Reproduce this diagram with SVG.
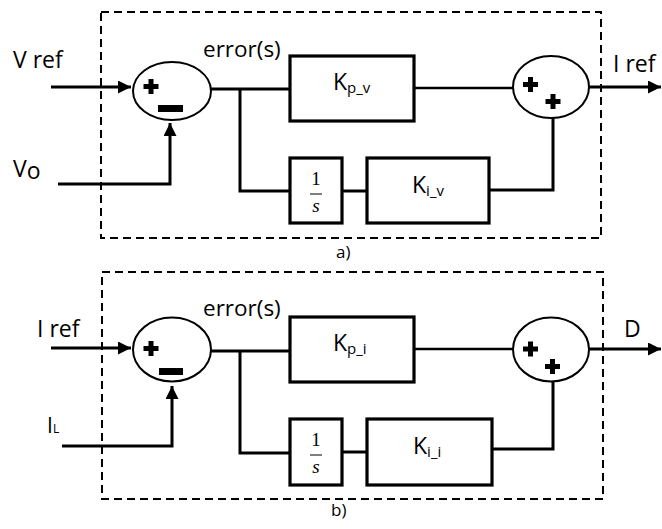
<svg xmlns="http://www.w3.org/2000/svg" xmlns:xlink="http://www.w3.org/1999/xlink" width="662" height="529" viewBox="0 0 662 529">
<style>
  .frame{fill:none;stroke:#000;stroke-width:2;stroke-dasharray:8 5}
  .blk{fill:#fff;stroke:#000;stroke-width:3.2}
  .sum{fill:#fff;stroke:#000;stroke-width:2}
  .wire{fill:none;stroke:#000;stroke-width:3}
  .thin{fill:none;stroke:#000;stroke-width:2.5}
  .lbl{font-family:"Open Sans","Liberation Sans",sans-serif;fill:#000}
  .big{font-size:23px}
  .sub{font-size:15px}
  .cap{font-size:17px}
  .math{font-family:"Liberation Serif","DejaVu Serif",serif;font-size:19px;fill:#000}
</style>
<defs>
  <marker id="arr" viewBox="0 0 12 12" refX="12" refY="6" markerWidth="13" markerHeight="13" markerUnits="userSpaceOnUse" orient="auto">
    <path d="M0,0 L12,6 L0,12 z" fill="#000"/>
  </marker>
  <path id="plus" d="M-7.5,-2.5 H-2.5 V-7.5 H2.5 V-2.5 H7.5 V2.5 H2.5 V7.5 H-2.5 V2.5 H-7.5 z" fill="#000"/>
</defs>

<!-- ===== Panel a ===== -->
<g id="frame-a"><rect class="frame" x="101" y="12" width="500" height="226"/></g>
<g id="connectors-a">
  <line class="wire" x1="51" y1="87" x2="131" y2="87" marker-end="url(#arr)"/>
  <polyline class="wire" points="58,184 170,184 170,123" marker-end="url(#arr)"/>
  <line class="wire" x1="211" y1="89" x2="290" y2="89"/>
  <polyline class="wire" points="240,89 240,191 290,191"/>
  <line class="thin" x1="414" y1="88" x2="513" y2="88"/>
  <line class="wire" x1="342" y1="191" x2="367" y2="191"/>
  <polyline class="wire" points="489,190 553,190 553,118"/>
  <line class="wire" x1="589" y1="87" x2="661" y2="87" marker-end="url(#arr)"/>
</g>
<g id="in-vref-a"><text class="lbl big" x="13" y="68">V ref</text></g>
<g id="in-vo-a"><text class="lbl big" x="13" y="177">V<tspan dy="2">o</tspan></text></g>
<g id="sum1-a">
  <ellipse class="sum" cx="172" cy="91" rx="39" ry="29"/>
  <use xlink:href="#plus" x="151" y="86.5"/>
  <rect x="158" y="105" width="25" height="7" fill="#000"/>
</g>
<g id="err-a"><text class="lbl" font-size="22.5" x="203" y="57">error(s)</text></g>
<g id="kp-a">
  <rect class="blk" x="290" y="56" width="124" height="65"/>
  <text class="lbl big" x="333" y="90">K<tspan class="sub" dy="3">p_v</tspan></text>
</g>
<g id="int-a">
  <rect class="blk" x="290" y="158" width="52" height="65"/>
  <text class="math" x="316" y="185" text-anchor="middle">1</text>
  <line x1="310" y1="194" x2="322" y2="194" stroke="#000" stroke-width="1"/>
  <text class="math" x="316" y="212" text-anchor="middle" font-style="italic">s</text>
</g>
<g id="ki-a">
  <rect class="blk" x="367" y="158" width="122" height="65"/>
  <text class="lbl big" x="412" y="193">K<tspan class="sub" dy="3">i_v</tspan></text>
</g>
<g id="sum2-a">
  <ellipse class="sum" cx="551" cy="87" rx="38" ry="31"/>
  <use xlink:href="#plus" x="530.5" y="84.5"/>
  <use xlink:href="#plus" x="553" y="101.5"/>
</g>
<g id="out-a"><text class="lbl big" x="613" y="72">I ref</text></g>
<g id="cap-a"><text class="lbl cap" x="336" y="258">a)</text></g>

<!-- ===== Panel b ===== -->
<g id="frame-b"><rect class="frame" x="102" y="272" width="501" height="227"/></g>
<g id="connectors-b">
  <line class="wire" x1="51" y1="348" x2="131" y2="348" marker-end="url(#arr)"/>
  <polyline class="wire" points="62,446 172,446 172,386" marker-end="url(#arr)"/>
  <line class="wire" x1="211" y1="351" x2="290" y2="351"/>
  <polyline class="wire" points="240,351 240,453 290,453"/>
  <line class="thin" x1="414" y1="349" x2="513" y2="349"/>
  <line class="wire" x1="342" y1="452" x2="367" y2="452"/>
  <polyline class="wire" points="492,449 553,449 553,382"/>
  <line class="wire" x1="589" y1="349" x2="661" y2="349" marker-end="url(#arr)"/>
</g>
<g id="in-iref-b"><text class="lbl big" x="37" y="337">I ref</text></g>
<g id="in-il-b"><text class="lbl" x="47" y="433" font-size="21" fill="#1a1a40">I<tspan font-size="12">L</tspan></text></g>
<g id="sum1-b">
  <ellipse class="sum" cx="172" cy="349.5" rx="39" ry="32"/>
  <use xlink:href="#plus" x="151" y="348.5"/>
  <rect x="159" y="368" width="24" height="7" fill="#000"/>
</g>
<g id="err-b"><text class="lbl" font-size="22.5" x="203" y="316">error(s)</text></g>
<g id="kp-b">
  <rect class="blk" x="290" y="317" width="124" height="65"/>
  <text class="lbl big" x="333" y="351">K<tspan class="sub" dy="3">p_i</tspan></text>
</g>
<g id="int-b">
  <rect class="blk" x="290" y="419" width="52" height="66"/>
  <text class="math" x="316" y="446" text-anchor="middle">1</text>
  <line x1="310" y1="455" x2="322" y2="455" stroke="#000" stroke-width="1"/>
  <text class="math" x="316" y="473" text-anchor="middle" font-style="italic">s</text>
</g>
<g id="ki-b">
  <rect class="blk" x="367" y="419" width="125" height="66"/>
  <text class="lbl big" x="413" y="454">K<tspan class="sub" dy="3">i_i</tspan></text>
</g>
<g id="sum2-b">
  <ellipse class="sum" cx="551" cy="349.5" rx="38" ry="32"/>
  <use xlink:href="#plus" x="530.5" y="349"/>
  <use xlink:href="#plus" x="552.5" y="366.5"/>
</g>
<g id="out-b"><text class="lbl big" x="624" y="337">D</text></g>
<g id="cap-b"><text class="lbl cap" x="331" y="516">b)</text></g>
</svg>
